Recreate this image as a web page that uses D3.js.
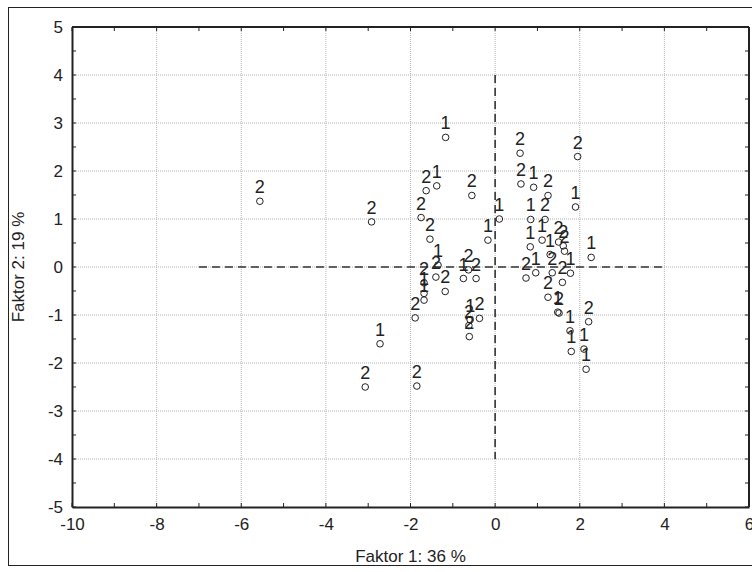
<!DOCTYPE html>
<html>
<head>
<meta charset="utf-8">
<script src="https://cdn.jsdelivr.net/npm/d3@7"></script>
<style>
  body { margin: 0; background: #fff; }
  text { font-family: "Liberation Sans", Arial, sans-serif; fill: #222; }
  .grid line { stroke: #b4b4b4; stroke-dasharray: 1,1; }
  .axis path, .axis line { stroke: #222; }
  .axis text { font-size: 17px; }
</style>
</head>
<body>
<div id="chartDiv"></div>
<script>
// scores on the two factors, one entry per case
var factor1 = [-5.56, -2.92, -2.72, -3.07, -1.85,
  -1.17, -1.63, -1.38, -0.55, -1.75, -1.54, -0.17, 0.10,
  -1.35, -1.40, -1.68, -1.68, -1.68, -1.89, -1.18, -0.75, -0.63, -0.45,
  -0.37, -0.59, -0.62, -0.61,
  0.59, 1.95, 0.61, 0.91, 1.25, 1.90, 0.84, 1.18,
  0.83, 1.11, 1.50, 1.61, 1.64, 1.30, 2.27,
  0.73, 0.96, 1.35, 1.78, 1.59, 1.25, 1.48, 1.51,
  2.21, 1.77, 1.80, 2.10, 2.15];
var factor2 = [1.37, 0.94, -1.60, -2.50, -2.48,
  2.70, 1.59, 1.69, 1.49, 1.03, 0.58, 0.56, 1.00,
  0.04, -0.21, -0.33, -0.55, -0.69, -1.06, -0.51, -0.24, -0.06, -0.24,
  -1.07, -1.10, -1.22, -1.45,
  2.37, 2.30, 1.73, 1.66, 1.49, 1.25, 0.99, 0.99,
  0.42, 0.56, 0.52, 0.44, 0.33, 0.26, 0.20,
  -0.23, -0.12, -0.12, -0.13, -0.32, -0.63, -0.94, -0.96,
  -1.14, -1.33, -1.76, -1.71, -2.13];
var group = ['2', '2', '1', '2', '2',
  '1', '2', '1', '2', '2', '2', '1', '1',
  '1', '2', '2', '1', '1', '2', '2', '1', '2', '2',
  '2', '1', '2', '2',
  '2', '2', '2', '1', '2', '1', '1', '2',
  '1', '1', '2', '2', '2', '1', '1',
  '2', '1', '2', '1', '2', '2', '1', '2',
  '2', '1', '1', '1', '1'];

var xTicks = [-10, -8, -6, -4, -2, 0, 2, 4, 6];
var yTicks = [-5, -4, -3, -2, -1, 0, 1, 2, 3, 4, 5];
var xTitle = 'Faktor 1: 36 %';
var yTitle = 'Faktor 2: 19 %';

var w = 752, h = 572;
var padL = 72, padR = 749, padT = 27, padB = 507;

var svg = d3.select('#chartDiv')
  .append('svg')
    .attr('width', w)
    .attr('height', h);

// outer frame
svg.append('rect')
  .attr('x', 8.5).attr('y', 7.5)
  .attr('width', 780).attr('height', 558)
  .attr('fill', 'none')
  .attr('stroke', '#222');

var x = d3.scaleLinear().domain([-10, 6]).range([padL, padR]);
var y = d3.scaleLinear().domain([-5, 5]).range([padB, padT]);
var plain = function(d) { return String(d); }; // hyphen minus like the original

// dotted grid
var grid = svg.append('g').classed('grid', true);
grid.selectAll('.vg')
  .data(xTicks.slice(1, -1))
  .enter().append('line')
    .attr('x1', function(d) { return x(d); })
    .attr('x2', function(d) { return x(d); })
    .attr('y1', padT).attr('y2', padB);
grid.selectAll('.hg')
  .data(yTicks.slice(1, -1))
  .enter().append('line')
    .attr('y1', function(d) { return y(d); })
    .attr('y2', function(d) { return y(d); })
    .attr('x1', padL).attr('x2', padR);

// axes, ticks point into the plot
var xMinor = d3.range(-10, 6.01, 1);
var yMinor = d3.range(-5, 5.01, 0.5);

svg.append('g')
  .classed('axis', true)
  .attr('transform', 'translate(0,' + padB + ')')
  .call(d3.axisBottom(x).tickValues(xTicks).tickSize(0).tickPadding(11).tickFormat(plain))
  .call(function(g) { g.select('.domain').attr('stroke-width', 2); });

svg.append('g')
  .classed('axis', true)
  .attr('transform', 'translate(' + padL + ',0)')
  .call(d3.axisLeft(y).tickValues(yTicks).tickSize(0).tickPadding(9).tickFormat(plain))
  .call(function(g) { g.select('.domain').attr('stroke-width', 2); });

// tick marks on all four sides
var ticks = svg.append('g').attr('stroke', '#222');
[padB, padT].forEach(function(yy) {
  var dir = yy === padB ? -1 : 1;
  ticks.selectAll(null)
    .data(xMinor)
    .enter().append('line')
      .attr('x1', function(d) { return x(d); })
      .attr('x2', function(d) { return x(d); })
      .attr('y1', yy).attr('y2', yy + dir * 4);
});
[padL, padR].forEach(function(xx) {
  var dir = xx === padL ? 1 : -1;
  ticks.selectAll(null)
    .data(yMinor)
    .enter().append('line')
      .attr('y1', function(d) { return y(d); })
      .attr('y2', function(d) { return y(d); })
      .attr('x1', xx).attr('x2', xx + dir * 4);
});

// top and right border of the plot
svg.append('line')
  .attr('x1', padL).attr('x2', padR).attr('y1', padT).attr('y2', padT)
  .attr('stroke', '#222').attr('stroke-width', 2);
svg.append('line')
  .attr('x1', padR).attr('x2', padR).attr('y1', padT).attr('y2', padB)
  .attr('stroke', '#222').attr('stroke-width', 2);

// dashed cross through the origin
svg.append('line')
  .attr('x1', x(-7)).attr('x2', x(4))
  .attr('y1', y(0)).attr('y2', y(0))
  .attr('stroke', '#333').attr('stroke-width', 1.6)
  .attr('stroke-dasharray', '8,5');
svg.append('line')
  .attr('x1', x(0)).attr('x2', x(0))
  .attr('y1', y(4)).attr('y2', y(-4))
  .attr('stroke', '#333').attr('stroke-width', 1.6)
  .attr('stroke-dasharray', '8,5');

// points with group labels
var pts = svg.append('g');
factor1.forEach(function(d, i) {
  pts.append('circle')
    .attr('cx', x(d))
    .attr('cy', y(factor2[i]))
    .attr('r', 3.3)
    .attr('fill', 'none')
    .attr('stroke', '#222')
    .attr('stroke-width', 1);
  pts.append('text')
    .attr('x', x(d))
    .attr('y', y(factor2[i]) - 8)
    .attr('text-anchor', 'middle')
    .style('font-size', '18px')
    .text(group[i]);
});

// axis titles
svg.append('text')
  .attr('x', (padL + padR) / 2)
  .attr('y', 562)
  .attr('text-anchor', 'middle')
  .style('font-size', '17px')
  .text(xTitle);

svg.append('text')
  .attr('transform', 'translate(24,' + y(0) + ') rotate(-90)')
  .attr('text-anchor', 'middle')
  .style('font-size', '17px')
  .text(yTitle);
</script>
</body>
</html>
